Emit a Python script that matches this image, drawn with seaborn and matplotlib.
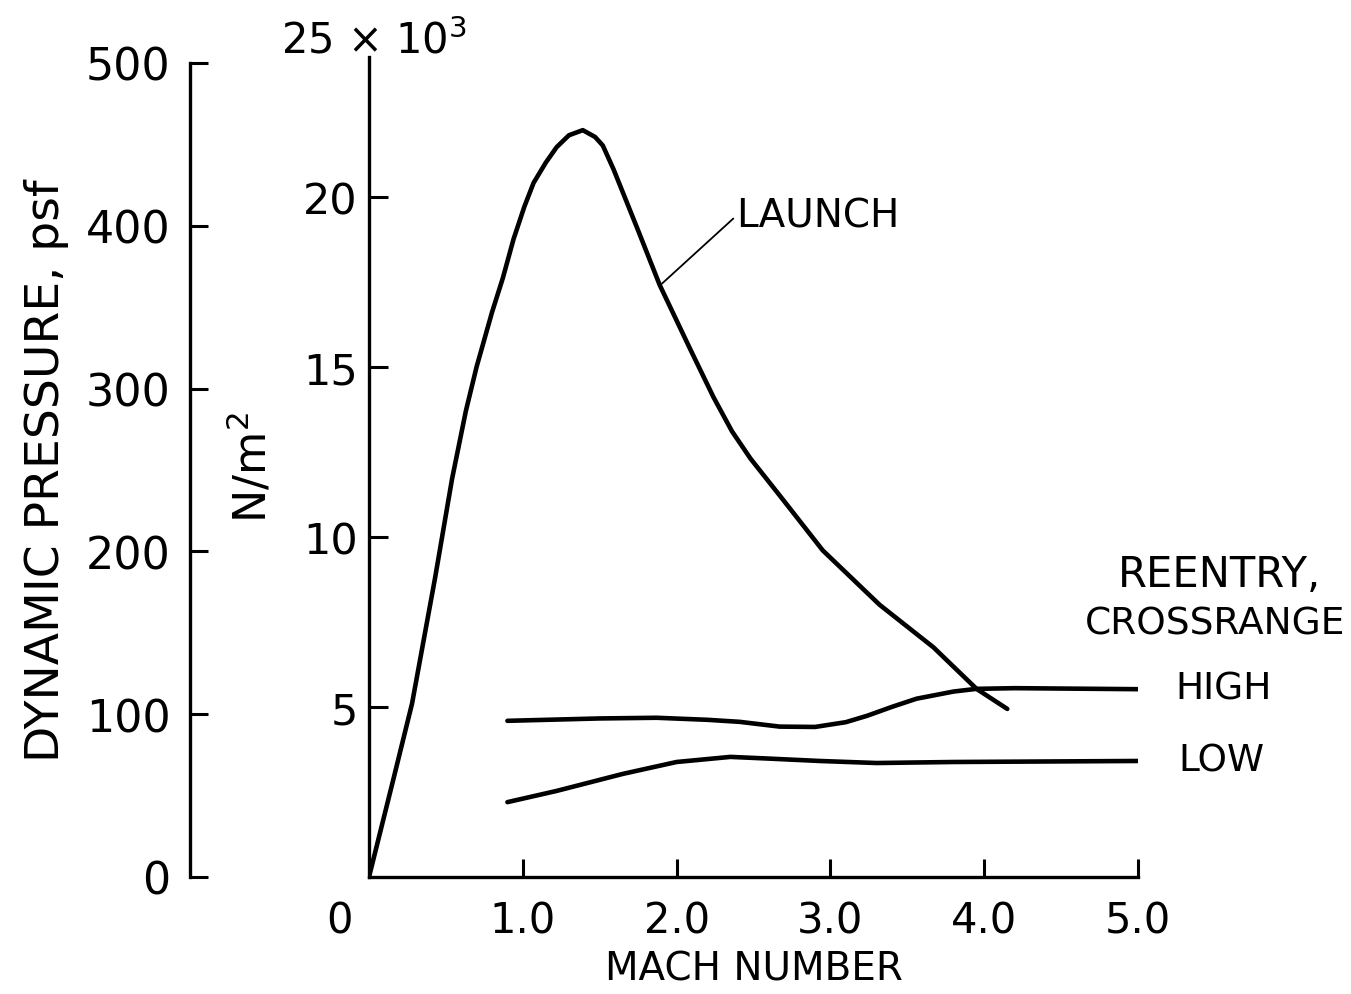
import pandas as pd
import matplotlib
matplotlib.use("Agg")
import matplotlib.pyplot as plt
import seaborn as sns

# Mach number vs dynamic pressure (10^3 N/m^2)
launch_mach = [0.0, 0.16, 0.28, 0.43, 0.54, 0.63, 0.70, 0.80, 0.87, 0.94, 1.01, 1.07, 1.15,
               1.22, 1.30, 1.39, 1.47, 1.52, 1.59, 1.75, 1.89, 2.09, 2.24, 2.36, 2.48,
               2.69, 2.95, 3.32, 3.67, 3.95, 4.15]
launch_q = [0.0, 2.9, 5.1, 8.8, 11.7, 13.7, 15.0, 16.6, 17.6, 18.75, 19.7, 20.4, 21.0,
            21.45, 21.8, 21.95, 21.75, 21.5, 20.8, 19.0, 17.4, 15.5, 14.1, 13.1, 12.3,
            11.1, 9.6, 8.0, 6.75, 5.53, 4.94]

high_mach = [0.90, 1.5, 1.87, 2.2, 2.41, 2.67, 2.9, 3.1, 3.24, 3.4, 3.56, 3.8, 3.95, 4.2, 5.0]
high_q = [4.59, 4.66, 4.68, 4.62, 4.56, 4.42, 4.41, 4.55, 4.74, 5.0, 5.24, 5.45, 5.53, 5.55, 5.52]

low_mach = [0.90, 1.22, 1.65, 2.0, 2.35, 2.6, 2.93, 3.3, 3.8, 5.0]
low_q = [2.2, 2.53, 3.03, 3.38, 3.53, 3.48, 3.41, 3.35, 3.38, 3.41]

x_ticks = [1.0, 2.0, 3.0, 4.0, 5.0]
x_ticklabels = ["1.0", "2.0", "3.0", "4.0", "5.0"]
y_ticks = [5, 10, 15, 20]
psf_ticks = [0, 100, 200, 300, 400, 500]

sns.set_style("ticks")
plt.rcParams["font.family"] = ["DejaVu Sans"]
plt.rcParams["text.color"] = "black"
plt.rcParams["axes.labelcolor"] = "black"
plt.rcParams["axes.edgecolor"] = "black"
plt.rcParams["xtick.color"] = "black"
plt.rcParams["ytick.color"] = "black"

fig = plt.figure(figsize=(13.51, 9.95), dpi=100)
W, H = 1351, 995

# main axes (N/m^2)
ax = fig.add_axes([369 / W, (H - 878) / H, (1138 - 369) / W, (878 - 58) / H])
lw = 3.3
for xs, ys in [(launch_mach, launch_q), (high_mach, high_q), (low_mach, low_q)]:
    d = pd.DataFrame({"mach": xs, "q": ys})
    sns.lineplot(data=d, x="mach", y="q", ax=ax, color="black", lw=lw,
                 sort=False, estimator=None)

ax.set_xlim(0, 5.0)
ax.set_ylim(0, 24.1)
ax.set_xticks(x_ticks)
ax.set_xticklabels(x_ticklabels)
ax.set_yticks(y_ticks)
ax.set_yticklabels([str(v) for v in y_ticks])
ax.tick_params(axis="both", direction="in", width=2.2, color="black")
ax.tick_params(axis="y", length=14, pad=8, labelsize=31)
ax.tick_params(axis="x", length=13, pad=16, labelsize=30)
for s in ["top", "right"]:
    ax.spines[s].set_visible(False)
for s in ["left", "bottom"]:
    ax.spines[s].set_linewidth(2.4)
    ax.spines[s].set_color("black")
ax.set_xlabel("MACH NUMBER", fontsize=28, labelpad=6)
ax.set_ylabel("N/m$^2$", fontsize=32, labelpad=20)
ax.patch.set_alpha(0)

ax.text(-0.19, -0.65, "0", fontsize=30, ha="center", va="top")
ax.text(0.03, 24.6, "25 × 10$^{3}$", fontsize=30, ha="center", va="center", clip_on=False)

ax.annotate("LAUNCH", xy=(1.905, 17.44), xytext=(2.39, 19.44), fontsize=28,
            va="center", ha="left",
            arrowprops=dict(arrowstyle="-", color="black", lw=1.3, shrinkA=0, shrinkB=0,
                            relpos=(0, 0.5)))

ax.text(5.53, 8.91, "REENTRY,", fontsize=30, ha="center", va="center", clip_on=False)
ax.text(5.50, 7.44, "CROSSRANGE", fontsize=27, ha="center", va="center", clip_on=False)
ax.text(5.24, 5.53, "HIGH", fontsize=27, ha="left", va="center", clip_on=False)
ax.text(5.26, 3.41, "LOW", fontsize=27, ha="left", va="center", clip_on=False)

# left axis (psf)
ax2 = fig.add_axes([190 / W, (H - 878) / H, 0.001, (878 - 64) / H])
ax2.set_ylim(0, 500)
ax2.set_yticks(psf_ticks)
ax2.set_yticklabels([str(v) for v in psf_ticks])
ax2.set_xticks([])
for s in ["top", "right", "bottom"]:
    ax2.spines[s].set_visible(False)
ax2.spines["left"].set_linewidth(2.4)
ax2.spines["left"].set_color("black")
ax2.tick_params(axis="y", direction="in", length=13, width=2.2, pad=14, labelsize=32,
                color="black")
ax2.set_ylabel("DYNAMIC PRESSURE, psf", fontsize=34, labelpad=12)
ax2.patch.set_alpha(0)

fig.savefig("out.png", dpi=100)
